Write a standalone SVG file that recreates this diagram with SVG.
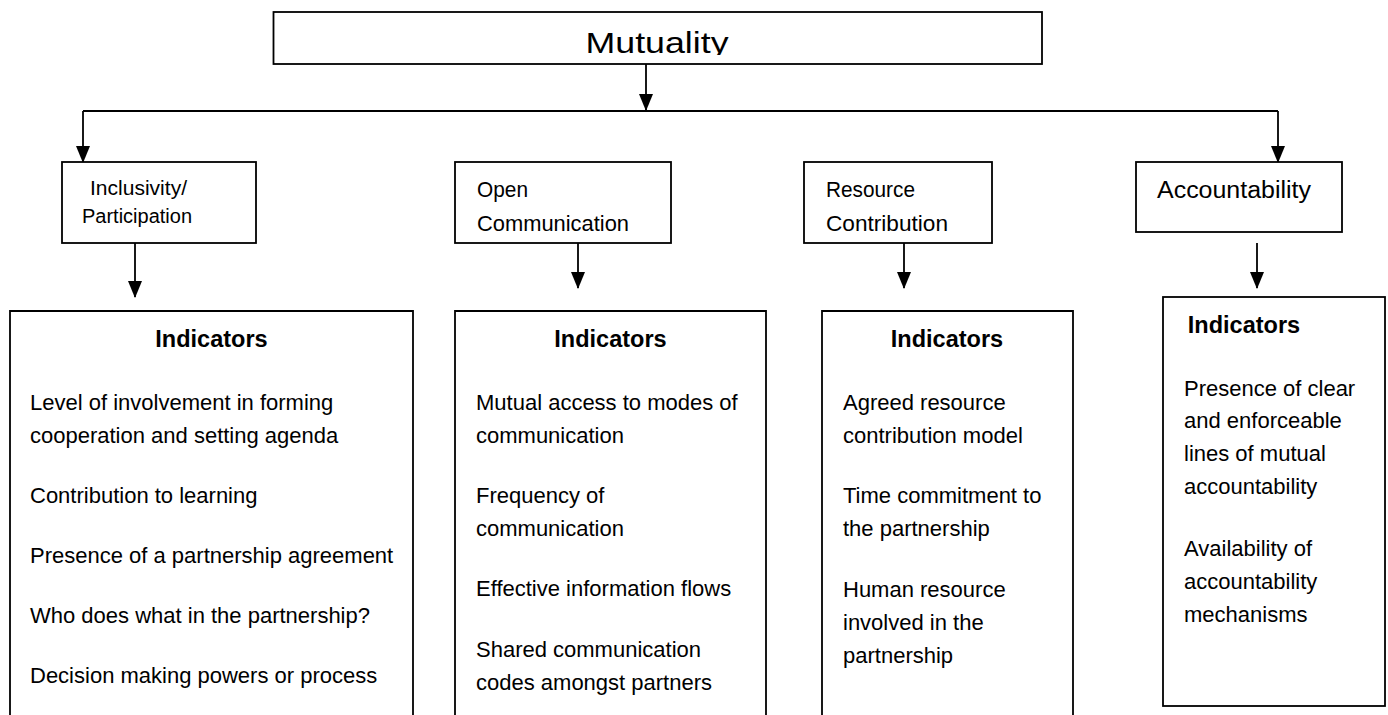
<svg xmlns="http://www.w3.org/2000/svg" width="1388" height="715" viewBox="0 0 1388 715">
<style>
.box{fill:#fff;stroke:#000;stroke-width:1.8}
.ln{fill:none;stroke:#000;stroke-width:1.8}
.t{font-family:"Liberation Sans",Arial,sans-serif;fill:#000}
.body{font-size:22px}
.hd{font-size:23.5px;font-weight:bold;text-anchor:middle}
.lab{font-size:21.5px}
</style>
<defs>
<marker id="ah" markerUnits="userSpaceOnUse" markerWidth="17" markerHeight="15" viewBox="0 0 17 15" refX="16" refY="7.5" orient="auto">
<path d="M0,0.5 L17,7.5 L0,14.5 Z" fill="#000"/>
</marker>
<clipPath id="mclip"><rect x="273" y="12" width="769" height="43"/></clipPath>
</defs>
<rect width="1388" height="715" fill="#fff"/>
<g id="mutuality">
<rect class="box" x="273.5" y="12" width="768.5" height="52"/>
<text class="t" x="657" y="53" font-size="30" text-anchor="middle" textLength="143" lengthAdjust="spacingAndGlyphs" clip-path="url(#mclip)">Mutuality</text>
</g>
<g id="connectors">
<path class="ln" d="M646,64 V110" marker-end="url(#ah)"/>
<path class="ln" d="M83,111 H1278"/>
<path class="ln" d="M83,111 V162" marker-end="url(#ah)"/>
<path class="ln" d="M1278,111 V162" marker-end="url(#ah)"/>
<path class="ln" d="M135,243 V297" marker-end="url(#ah)"/>
<path class="ln" d="M578,243 V288" marker-end="url(#ah)"/>
<path class="ln" d="M904,243 V288" marker-end="url(#ah)"/>
<path class="ln" d="M1257,243 V288" marker-end="url(#ah)"/>
</g>
<g id="inclusivity">
<rect class="box" x="62" y="162" width="194" height="81"/>
<text class="t" x="90" y="195" font-size="19.5" textLength="97" lengthAdjust="spacingAndGlyphs">Inclusivity/</text>
<text class="t" x="82" y="223" font-size="19.5" textLength="110" lengthAdjust="spacingAndGlyphs">Participation</text>
</g>
<g id="open-communication">
<rect class="box" x="455" y="162" width="216" height="81"/>
<text class="t lab" x="477" y="197" textLength="51" lengthAdjust="spacingAndGlyphs">Open</text>
<text class="t lab" x="477" y="231" textLength="152" lengthAdjust="spacingAndGlyphs">Communication</text>
</g>
<g id="resource-contribution">
<rect class="box" x="804" y="162" width="188" height="81"/>
<text class="t lab" x="826" y="197" textLength="89" lengthAdjust="spacingAndGlyphs">Resource</text>
<text class="t lab" x="826" y="231" textLength="122" lengthAdjust="spacingAndGlyphs">Contribution</text>
</g>
<g id="accountability">
<rect class="box" x="1136" y="162" width="206" height="70"/>
<text class="t" x="1157" y="198" font-size="23.5" textLength="154" lengthAdjust="spacingAndGlyphs">Accountability</text>
</g>
<g id="ind-inclusivity">
<path class="box" d="M10,716 V311 H413 V716"/>
<text class="t hd" x="211.5" y="347">Indicators</text>
<text class="t body" x="30" y="410">Level of involvement in forming</text>
<text class="t body" x="30" y="443">cooperation and setting agenda</text>
<text class="t body" x="30" y="503">Contribution to learning</text>
<text class="t body" x="30" y="563">Presence of a partnership agreement</text>
<text class="t body" x="30" y="623">Who does what in the partnership?</text>
<text class="t body" x="30" y="683">Decision making powers or process</text>
</g>
<g id="ind-open-communication">
<path class="box" d="M455,716 V311 H766 V716"/>
<text class="t hd" x="610.5" y="347">Indicators</text>
<text class="t body" x="476" y="410">Mutual access to modes of</text>
<text class="t body" x="476" y="443">communication</text>
<text class="t body" x="476" y="503">Frequency of</text>
<text class="t body" x="476" y="536">communication</text>
<text class="t body" x="476" y="596">Effective information flows</text>
<text class="t body" x="476" y="657">Shared communication</text>
<text class="t body" x="476" y="690">codes amongst partners</text>
</g>
<g id="ind-resource-contribution">
<path class="box" d="M822,716 V311 H1073 V716"/>
<text class="t hd" x="947" y="347">Indicators</text>
<text class="t body" x="843" y="410">Agreed resource</text>
<text class="t body" x="843" y="443">contribution model</text>
<text class="t body" x="843" y="503">Time commitment to</text>
<text class="t body" x="843" y="536">the partnership</text>
<text class="t body" x="843" y="597">Human resource</text>
<text class="t body" x="843" y="630">involved in the</text>
<text class="t body" x="843" y="663">partnership</text>
</g>
<g id="ind-accountability">
<rect class="box" x="1163" y="297" width="222" height="409"/>
<text class="t hd" x="1244" y="333">Indicators</text>
<text class="t body" x="1184" y="396">Presence of clear</text>
<text class="t body" x="1184" y="428">and enforceable</text>
<text class="t body" x="1184" y="461">lines of mutual</text>
<text class="t body" x="1184" y="494">accountability</text>
<text class="t body" x="1184" y="556">Availability of</text>
<text class="t body" x="1184" y="589">accountability</text>
<text class="t body" x="1184" y="622">mechanisms</text>
</g>
</svg>
